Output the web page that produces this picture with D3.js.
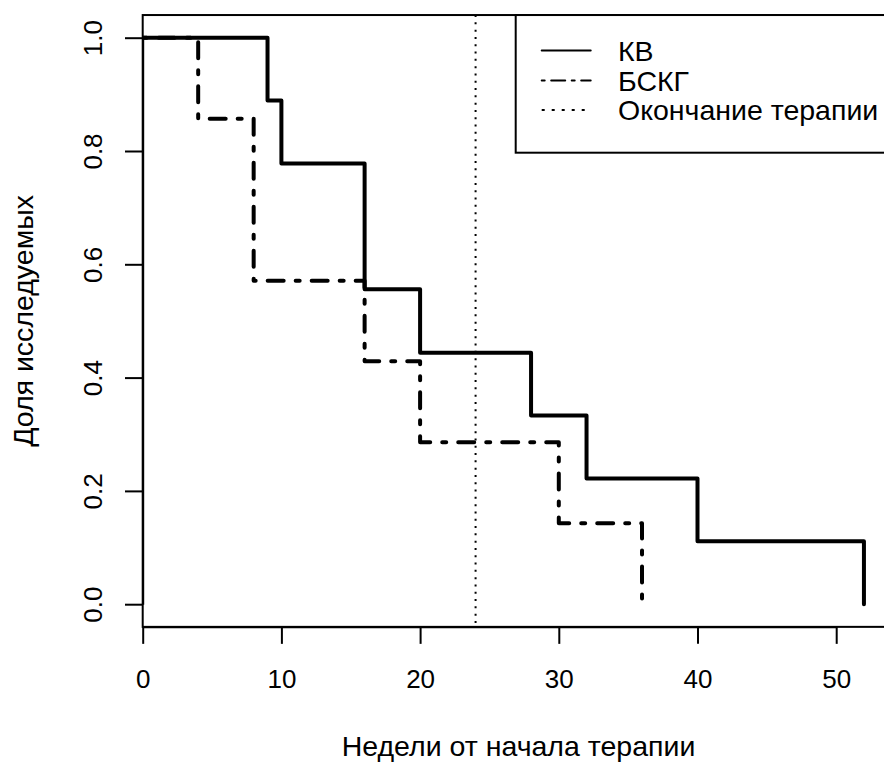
<!DOCTYPE html>
<html>
<head>
<meta charset="utf-8">
<script src="https://cdn.jsdelivr.net/npm/d3@7"></script>
<style>
  html, body { margin: 0; padding: 0; background: #fff; }
  svg { display: block; }
  text { font-family: "Liberation Sans", Arial, Helvetica, sans-serif; fill: #000; }
</style>
</head>
<body>
<svg id="chart" width="884" height="763"></svg>
<script>
// ---- data ----
const kvTimes  = [0, 9, 10, 16, 20, 28, 32, 40, 52];
const kvSurv   = [1, 0.889, 0.778, 0.556, 0.444, 0.333, 0.222, 0.111, 0];
const bcgTimes = [0, 4, 8, 16, 20, 30, 36];
const bcgSurv  = [1, 0.857, 0.571, 0.429, 0.286, 0.143, 0];
const therapyEnd = 24;
const xTicks = [0, 10, 20, 30, 40, 50];
const yTicks = [0, 0.2, 0.4, 0.6, 0.8, 1.0];
const legendLabels = ["КВ", "БСКГ", "Окончание терапии"];
const xTitle = "Недели от начала терапии";
const yTitle = "Доля исследуемых";

// ---- layout ----
const W = 884, H = 763;
const svg = d3.select("#chart");
const x = d3.scaleLinear().domain([0, 50]).range([142.7, 836.2]);
const y = d3.scaleLinear().domain([0, 1]).range([604.2, 37.7]);
const boxL = x(0), boxR = W + 20, boxT = y(1.04), boxB = y(-0.04);
const fsNum = 26;   // tick labels
const fsTxt = 28.5; // titles & legend

svg.append("defs").append("clipPath").attr("id", "plotclip")
  .append("rect").attr("x", boxL).attr("y", boxT).attr("width", boxR - boxL).attr("height", boxB - boxT);

const plot = svg.append("g").attr("clip-path", "url(#plotclip)");

// vertical dotted line (end of therapy)
plot.append("line")
  .attr("x1", x(therapyEnd)).attr("x2", x(therapyEnd))
  .attr("y1", boxT).attr("y2", boxB)
  .attr("stroke", "#000").attr("stroke-width", 2)
  .attr("stroke-dasharray", "2,5.3");

const line = d3.line().x(d => x(d[0])).y(d => y(d[1])).curve(d3.curveStepAfter);

// BSKG dash-dot
plot.append("path")
  .attr("d", line(bcgTimes.map((t, i) => [t, bcgSurv[i]])))
  .attr("fill", "none").attr("stroke", "#000").attr("stroke-width", 4)
  .attr("stroke-linecap", "round").attr("stroke-linejoin", "round")
  .attr("stroke-dasharray", "4,12,16,12");

// KV solid
plot.append("path")
  .attr("d", line(kvTimes.map((t, i) => [t, kvSurv[i]])))
  .attr("fill", "none").attr("stroke", "#000").attr("stroke-width", 4)
  .attr("stroke-linecap", "round").attr("stroke-linejoin", "round");

// box
svg.append("rect")
  .attr("x", boxL).attr("y", boxT).attr("width", boxR - boxL).attr("height", boxB - boxT)
  .attr("fill", "none").attr("stroke", "#000").attr("stroke-width", 2);

// x axis
const xAxis = d3.axisBottom(x).tickValues(xTicks).tickFormat(d3.format("d")).tickSize(17).tickSizeOuter(0);
const gx = svg.append("g").attr("transform", `translate(0,${boxB})`).call(xAxis);
gx.select(".domain").attr("stroke", "#000").attr("stroke-width", 2);
gx.selectAll(".tick line").attr("stroke", "#000").attr("stroke-width", 2);
gx.selectAll(".tick text").attr("y", 688 - boxB).attr("dy", null)
  .attr("font-size", fsNum).attr("font-family", "Liberation Sans, Arial, sans-serif").attr("fill", "#000");

// y axis
const yAxis = d3.axisLeft(y).tickValues(yTicks).tickFormat(d3.format(".1f")).tickSize(17.7).tickSizeOuter(0);
const gy = svg.append("g").attr("transform", `translate(${boxL},0)`).call(yAxis);
gy.select(".domain").attr("stroke", "#000").attr("stroke-width", 2);
gy.selectAll(".tick line").attr("stroke", "#000").attr("stroke-width", 2);
gy.selectAll(".tick text")
  .attr("x", null).attr("dy", null)
  .attr("transform", `translate(${101.7 - boxL},0) rotate(-90)`)
  .attr("text-anchor", "middle").attr("y", 0)
  .attr("font-size", fsNum).attr("font-family", "Liberation Sans, Arial, sans-serif").attr("fill", "#000");

// axis titles
svg.append("text").attr("x", 341.7).attr("y", 756).attr("text-anchor", "start")
  .attr("font-size", fsTxt).text(xTitle);
svg.append("text").attr("transform", `translate(33.3,${(boxT + boxB) / 2}) rotate(-90)`)
  .attr("text-anchor", "middle").attr("font-size", fsTxt).text(yTitle);

// legend
const legL = 515.7, legT = boxT, legB = 152.7;
svg.append("rect").attr("x", legL).attr("y", legT).attr("width", boxR - legL).attr("height", legB - legT)
  .attr("fill", "#fff").attr("stroke", "#000").attr("stroke-width", 2);
const legRows = [50.5, 80.5, 110];
const legDash = [null, "3,6.5,14,6.5", "3,7"];
const legCap = ["round", "round", "butt"];
legendLabels.forEach((lab, i) => {
  svg.append("line").attr("x1", 541.7).attr("x2", 590.7)
    .attr("y1", legRows[i]).attr("y2", legRows[i])
    .attr("stroke", "#000").attr("stroke-width", 2)
    .attr("stroke-linecap", legCap[i])
    .attr("stroke-dasharray", legDash[i]);
  svg.append("text").attr("x", 618).attr("y", legRows[i] + 10.3)
    .attr("font-size", fsTxt).text(lab);
});
</script>
</body>
</html>
